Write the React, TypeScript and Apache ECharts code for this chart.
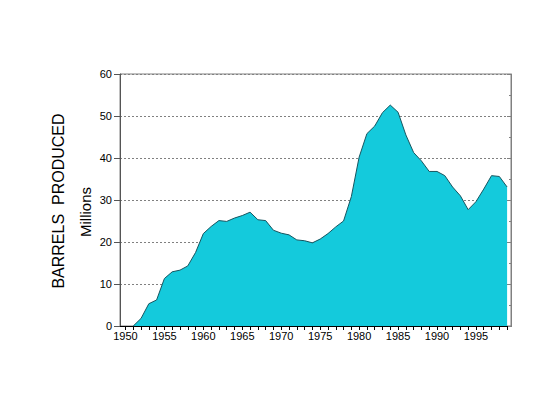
import React, { useEffect, useRef } from "react";
import * as echarts from "echarts";

const years = [
  1951, 1952, 1953, 1954, 1955, 1956, 1957, 1958, 1959, 1960,
  1961, 1962, 1963, 1964, 1965, 1966, 1967, 1968, 1969, 1970,
  1971, 1972, 1973, 1974, 1975, 1976, 1977, 1978, 1979, 1980,
  1981, 1982, 1983, 1984, 1985, 1986, 1987, 1988, 1989, 1990,
  1991, 1992, 1993, 1994, 1995, 1996, 1997, 1998, 1999,
];
const barrelsMillions = [
  0, 1.8, 5.3, 6.2, 11.3, 12.9, 13.3, 14.3, 17.5, 22.0,
  23.7, 25.1, 24.9, 25.7, 26.3, 27.1, 25.3, 25.1, 22.8, 22.1,
  21.7, 20.5, 20.3, 19.8, 20.7, 22.0, 23.6, 25.0, 30.8, 40.2,
  45.8, 47.6, 50.8, 52.6, 50.9, 45.5, 41.3, 39.3, 36.8, 36.8,
  35.8, 33.1, 31.0, 27.7, 29.6, 32.6, 35.8, 35.6, 33.1,
];
const xTickYears = [
  1950, 1951, 1952, 1953, 1954, 1955, 1956, 1957, 1958, 1959,
  1960, 1961, 1962, 1963, 1964, 1965, 1966, 1967, 1968, 1969,
  1970, 1971, 1972, 1973, 1974, 1975, 1976, 1977, 1978, 1979,
  1980, 1981, 1982, 1983, 1984, 1985, 1986, 1987, 1988, 1989,
  1990, 1991, 1992, 1993, 1994, 1995, 1996, 1997, 1998, 1999,
];
const xLabelYears = [1950, 1955, 1960, 1965, 1970, 1975, 1980, 1985, 1990, 1995];
const yAxisTitle = "BARRELS  PRODUCED";
const yAxisUnit = "Millions";

const FONT = "'Liberation Sans', Arial, sans-serif";

export default function App() {
  const ref = useRef<HTMLDivElement>(null);
  useEffect(() => {
    if (!ref.current) return;
    const chart = echarts.init(ref.current, null, { renderer: "svg" });
    const seriesData = years.map((y, i) => [y, barrelsMillions[i]]);
    chart.setOption({
      animation: false,
      backgroundColor: "#ffffff",
      grid: {
        left: 120,
        top: 74,
        right: 22,
        bottom: 73,
        show: true,
        borderColor: "#808080",
        borderWidth: 1,
        backgroundColor: "transparent",
      },
      xAxis: {
        type: "value",
        min: 1949.3,
        max: 1999.5,
        axisLine: { show: true, onZero: false, lineStyle: { color: "#000000", width: 1 } },
        axisTick: {
          show: true,
          customValues: xTickYears,
          length: 4,
          lineStyle: { color: "#000000" },
        },
        axisLabel: {
          customValues: xLabelYears,
          color: "#000000",
          fontFamily: FONT,
          fontSize: 11,
          margin: 4,
          formatter: (v: number) => String(v),
        },
        splitLine: { show: false },
      },
      yAxis: [
        {
          type: "value",
          min: 0,
          max: 60,
          interval: 10,
          axisLine: { show: true, lineStyle: { color: "#555555" } },
          axisTick: { show: true, length: 6, lineStyle: { color: "#555555" } },
          axisLabel: {
            color: "#000000",
            fontFamily: FONT,
            fontSize: 11,
            margin: 8,
          },
          splitLine: {
            show: true,
            lineStyle: { color: "#808080", type: [2, 2], width: 1 },
          },
        },
        {
          type: "value",
          position: "right",
          min: 0,
          max: 60,
          interval: 10,
          axisLine: { show: true, lineStyle: { color: "#808080" } },
          axisTick: { show: true, inside: true, length: 4, lineStyle: { color: "#808080" } },
          minorTick: { show: true, splitNumber: 2, length: 2, lineStyle: { color: "#808080" } },
          axisLabel: { show: false },
          splitLine: { show: false },
        },
      ],
      series: [
        {
          type: "line",
          data: seriesData,
          symbol: "none",
          lineStyle: { color: "#16555f", width: 1 },
          areaStyle: { color: "#14cadc", opacity: 1 },
          z: 1,
        },
      ],
      graphic: [
        {
          type: "text",
          x: 58,
          y: 201,
          rotation: Math.PI / 2,
          style: {
            text: yAxisTitle,
            fontFamily: FONT,
            fontSize: 16,
            fill: "#000000",
            textAlign: "center",
            textVerticalAlign: "middle",
          },
        },
        {
          type: "text",
          x: 85,
          y: 212,
          rotation: Math.PI / 2,
          style: {
            text: yAxisUnit,
            fontFamily: FONT,
            fontSize: 15,
            fill: "#000000",
            textAlign: "center",
            textVerticalAlign: "middle",
          },
        },
      ],
    });
    return () => chart.dispose();
  }, []);
  return (
    <div
      ref={ref}
      style={{ position: "fixed", left: 0, top: 0, width: 533, height: 399, background: "#fff" }}
    />
  );
}
